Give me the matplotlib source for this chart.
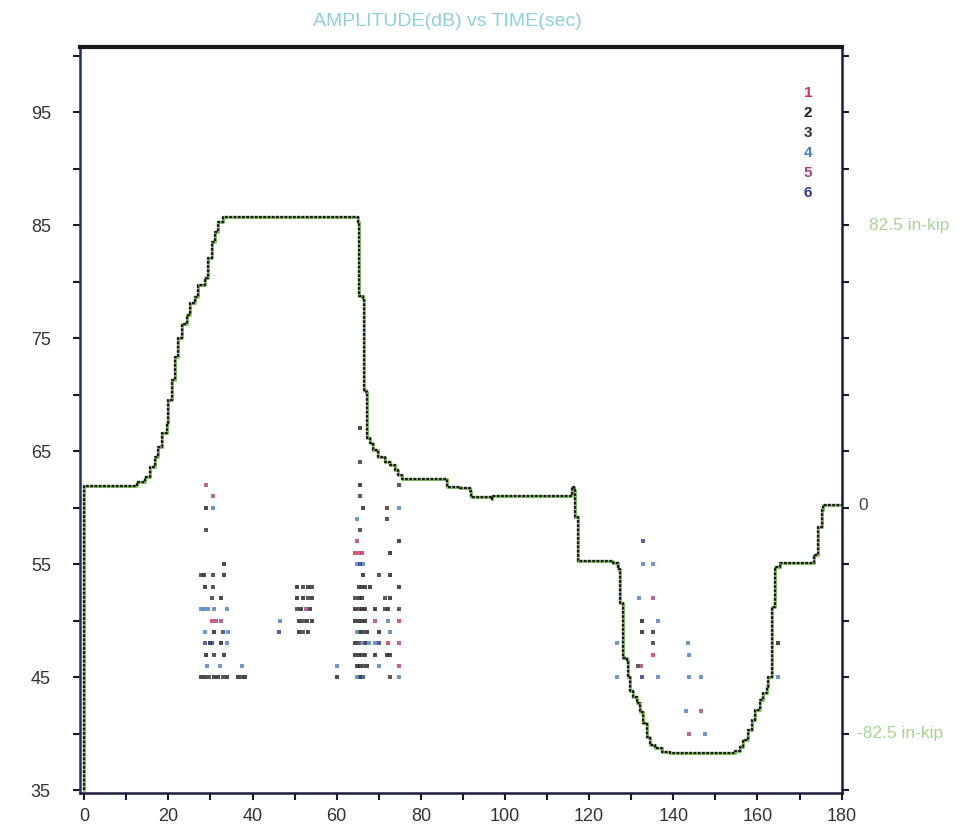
import matplotlib
matplotlib.use("Agg")
import matplotlib.pyplot as plt
from matplotlib.ticker import MultipleLocator, FuncFormatter

plt.rcParams['font.family'] = ['Liberation Sans', 'DejaVu Sans']

# Load envelope (dB) versus time (s)
load_time = [0, 0, 11.4, 12.6, 14.5, 15.7, 16.9, 17.6, 18.5, 19.7, 20.0, 20.9, 21.6, 22.3,
             23.3, 24.5, 25.2, 26.4, 27.1, 28.7, 29.4, 30.4, 31.1, 31.8, 33.0, 64.4, 65.1,
             65.2, 66.3, 66.4, 67.0, 67.1, 67.9, 68.6, 69.8, 71.5, 72.7, 73.9, 74.6, 75.5,
             86.0, 86.1, 89.3, 91.7, 92.0, 96.9, 97.0, 115.9, 116.0, 116.5, 116.6, 117.3,
             117.4, 125.6, 126.8, 127.3, 128.0, 128.1, 129.0, 129.2, 129.7, 130.4, 131.3,
             132.0, 132.8, 133.7, 134.4, 135.6, 137.3, 139.2, 153.9, 154.6, 155.8, 156.5,
             157.7, 158.6, 159.3, 160.5, 161.2, 162.2, 162.5, 163.4, 163.5, 164.1, 164.2,
             165.3, 173.2, 173.5, 174.3, 174.5, 175.3, 175.6, 180.0]
load_db = [35.0, 61.9, 61.9, 62.3, 62.7, 63.6, 64.5, 65.4, 66.6, 67.5, 69.5, 71.3, 73.3, 75.0,
           76.2, 77.0, 78.1, 78.6, 79.7, 80.3, 82.1, 83.5, 84.4, 85.3, 85.7, 85.7, 85.3,
           78.7, 78.5, 70.4, 70.2, 66.2, 65.7, 65.1, 64.5, 64.0, 63.8, 63.3, 62.9, 62.5,
           62.5, 61.8, 61.7, 61.5, 60.9, 60.8, 61.0, 61.0, 61.8, 61.6, 59.2, 59.0,
           55.3, 55.1, 54.6, 51.6, 51.5, 46.7, 46.5, 45.0, 43.8, 43.2, 42.7,
           41.9, 40.9, 39.7, 39.0, 38.7, 38.4, 38.3, 38.3, 38.5, 38.8, 39.4,
           40.3, 41.2, 42.1, 43.0, 43.6, 44.1, 45.0, 46.5, 51.2, 51.8, 54.7,
           55.1, 55.1, 55.8, 56.9, 58.3, 59.8, 60.2, 60.2]

# Acoustic emission hits: time (s), amplitude (dB), channel
hit_time = [
    29.0, 30.7, 29.0, 30.7, 29.0, 33.3, 27.7, 28.5, 30.6, 33.3, 28.8, 30.6, 30.4, 32.6,
    27.7, 28.5, 29.5, 30.9, 33.9, 30.4, 31.4, 32.4, 28.8, 30.9, 33.1, 34.1, 28.8, 29.8,
    30.4, 32.6, 33.9, 29.0, 30.9, 33.3, 29.2, 32.2, 37.4, 27.7, 28.7, 29.7, 30.9, 31.9,
    32.9, 33.9, 36.6, 37.6, 38.2,
    46.5, 46.4, 50.6, 52.0, 53.3, 54.2, 50.6, 52.0, 53.3, 54.2, 50.6, 51.6, 52.6, 53.6,
    51.0, 52.0, 53.0, 54.2, 51.0, 52.0, 53.2,
    65.5, 65.5, 65.6, 74.7, 65.6, 66.3, 71.9, 74.7, 64.8, 71.9, 65.6, 64.8, 74.7, 64.4,
    65.2, 66.0, 72.7, 64.8, 65.6, 66.3, 66.3, 70.1, 72.7, 65.2, 66.0, 66.8, 67.9, 74.7,
    64.4, 65.2, 66.0, 71.5, 72.7, 64.4, 65.2, 66.0, 66.8, 69.1, 71.5, 72.3, 74.7, 64.4,
    65.2, 66.0, 66.8, 69.1, 72.3, 74.7, 64.8, 65.6, 66.3, 67.1, 70.1, 72.7, 64.4, 65.2,
    66.0, 66.8, 67.6, 69.1, 70.1, 72.1, 74.7, 64.4, 65.2, 66.0, 66.8, 69.1, 71.9, 72.7,
    60.0, 64.8, 65.6, 66.3, 67.1, 70.1, 74.7, 60.0, 64.8, 65.6, 66.3, 72.7, 74.7,
    132.7, 132.7, 135.2, 131.8, 135.2, 132.6, 136.4, 132.6, 135.2, 126.6, 135.2, 143.5,
    164.9, 135.2, 143.8, 131.6, 132.3, 126.6, 132.6, 136.4, 143.8, 146.6, 164.9, 143.0,
    146.6, 143.7, 147.5]
hit_db = [
    62, 61, 60, 60, 58, 55, 54, 54, 54, 54, 53, 53, 52, 52,
    51, 51, 51, 51, 51, 50, 50, 50, 49, 49, 49, 49, 48, 48,
    48, 48, 48, 47, 47, 47, 46, 46, 46, 45, 45, 45, 45, 45,
    45, 45, 45, 45, 45,
    50, 49, 53, 53, 53, 53, 52, 52, 52, 52, 51, 51, 51, 51,
    50, 50, 50, 50, 49, 49, 49,
    67, 64, 62, 62, 61, 60, 60, 60, 59, 59, 58, 57, 57, 56,
    56, 56, 56, 55, 55, 55, 54, 54, 54, 53, 53, 53, 53, 53,
    52, 52, 52, 52, 52, 51, 51, 51, 51, 51, 51, 51, 51, 50,
    50, 50, 50, 50, 50, 50, 49, 49, 49, 49, 49, 49, 48, 48,
    48, 48, 48, 48, 48, 48, 48, 47, 47, 47, 47, 47, 47, 47,
    46, 46, 46, 46, 46, 46, 46, 45, 45, 45, 45, 45, 45,
    57, 55, 55, 52, 52, 50, 50, 49, 49, 48, 48, 48,
    48, 47, 47, 46, 46, 45, 45, 45, 45, 45, 45, 42,
    42, 40, 40]
hit_channel = [
    5, 5, 2, 4, 3, 2, 3, 2, 3, 2, 2, 3, 3, 2,
    4, 4, 4, 4, 4, 1, 5, 5, 4, 2, 6, 4, 6, 2,
    6, 2, 4, 2, 3, 2, 4, 4, 4, 2, 2, 3, 2, 2,
    3, 2, 2, 3, 2,
    4, 6, 2, 3, 2, 3, 2, 2, 3, 2, 3, 2, 5, 2,
    2, 3, 2, 2, 2, 3, 2,
    2, 3, 2, 3, 3, 2, 3, 4, 4, 3, 3, 5, 2, 1,
    5, 1, 2, 4, 6, 4, 2, 3, 2, 2, 3, 2, 2, 2,
    3, 2, 2, 3, 2, 2, 3, 2, 2, 2, 3, 2, 3, 2,
    2, 3, 2, 5, 4, 1, 4, 2, 3, 2, 2, 4, 2, 3,
    4, 2, 4, 4, 6, 1, 5, 2, 2, 3, 2, 2, 2, 2,
    4, 2, 2, 3, 2, 4, 5, 2, 4, 2, 6, 3, 4,
    6, 4, 4, 4, 5, 2, 4, 2, 3, 4, 3, 4,
    2, 1, 4, 3, 5, 4, 6, 4, 4, 4, 4, 4,
    5, 5, 4]

channels = [1, 2, 3, 4, 5, 6]
channel_colors = {1: '#d8304a', 2: '#1e1e1e', 3: '#3b2a2a', 4: '#4a7fc0',
                  5: '#a8407e', 6: '#2c3a8a'}

fig = plt.figure(figsize=(9.78, 8.4), dpi=100)
ax = fig.add_axes([0.0818, 0.056, 0.7792, 0.888])

# load envelope: green trace with dotted dark overlay
ax.plot(load_time, load_db, drawstyle='steps-post', color='#8cc86c', lw=2.2, zorder=3)
ax.plot(load_time, load_db, drawstyle='steps-post', color='#1a1a1a', lw=1.7,
        linestyle=(0, (1.2, 0.6)), zorder=4)

# hits by channel
for ch in channels:
    xs = [t for t, c in zip(hit_time, hit_channel) if c == ch]
    ys = [a for a, c in zip(hit_db, hit_channel) if c == ch]
    ax.scatter(xs, ys, marker='s', s=8, color=channel_colors[ch], alpha=0.8,
               linewidths=0, zorder=2)

ax.set_xlim(-1, 180.1)
ax.set_ylim(34.75, 100.75)

ax.xaxis.set_major_locator(MultipleLocator(10))
ax.xaxis.set_major_formatter(FuncFormatter(lambda v, p: f"{v:.0f}" if round(v) % 20 == 0 else ""))
ax.yaxis.set_major_locator(MultipleLocator(5))
ax.yaxis.set_major_formatter(FuncFormatter(lambda v, p: f"{v:.0f}" if round(v) % 10 == 5 else ""))
ax.tick_params(axis='both', direction='out', length=5, width=1.5, color='#1a1a2a',
               labelsize=13, labelcolor='#333333')
ax.tick_params(axis='x', pad=6)
ax.tick_params(axis='y', pad=16, right=True)

for side in ['left', 'right', 'bottom']:
    ax.spines[side].set_linewidth(1.8)
    ax.spines[side].set_color('#1c1c3c')
ax.spines['left'].set_color('#24306a')
ax.spines['top'].set_linewidth(3.0)
ax.spines['top'].set_color('#1a1a1a')

# channel key
for i, ch in enumerate(channels):
    ax.text(0.955, 0.938 - i * 0.0268, str(ch), transform=ax.transAxes,
            color=channel_colors[ch], fontsize=11, fontweight='bold',
            ha='center', va='center')

# load scale on the right
green = '#a6d593'
ax.text(1.035, 85, "82.5 in-kip", transform=ax.get_yaxis_transform(), color=green,
        fontsize=12.5, va='center', ha='left')
ax.text(1.022, 60.2, "0", transform=ax.get_yaxis_transform(), color='#444444',
        fontsize=12.5, va='center', ha='left')
ax.text(1.02, 40, "-82.5 in-kip", transform=ax.get_yaxis_transform(), color=green,
        fontsize=12.5, va='center', ha='left')

fig.text(0.457, 0.975, "AMPLITUDE(dB) vs TIME(sec)", color='#8ed0da', fontsize=14,
         ha='center', va='center')

fig.savefig("out.png", dpi=100, facecolor='white')
